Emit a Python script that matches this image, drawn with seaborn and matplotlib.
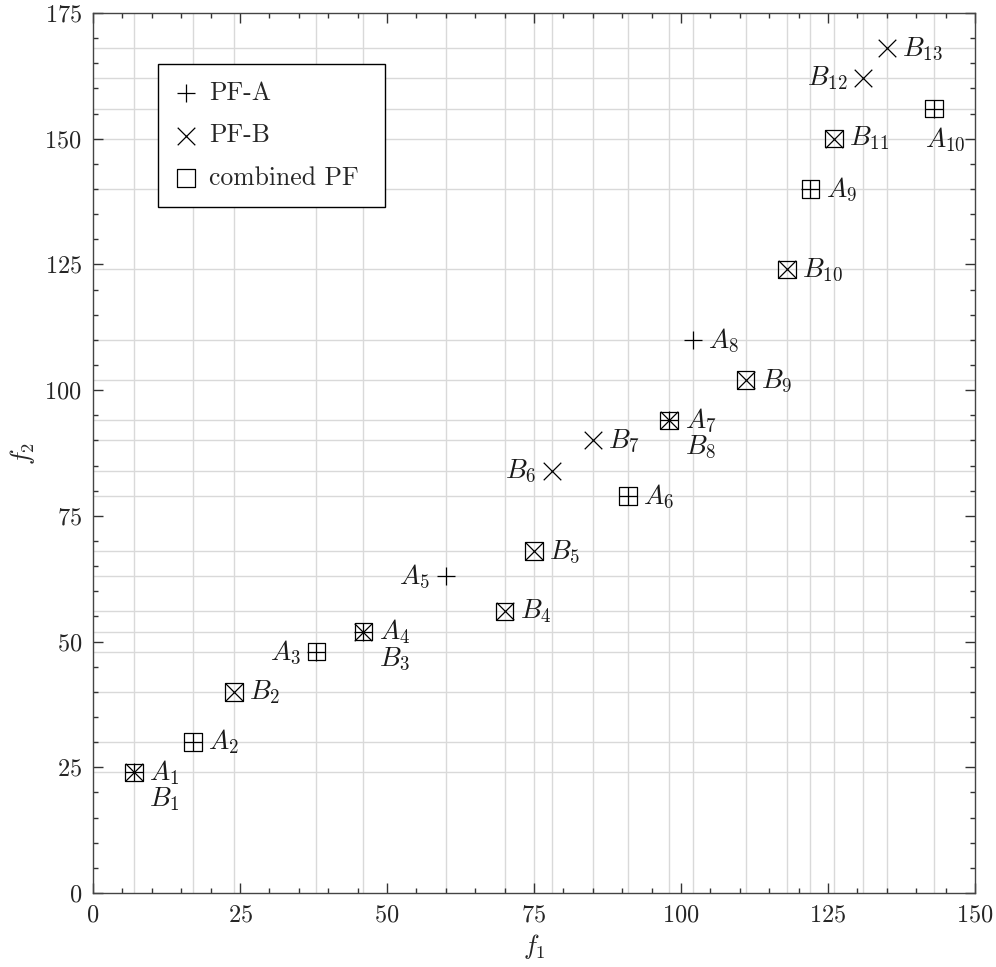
import matplotlib
matplotlib.use("Agg")
import matplotlib.pyplot as plt
import seaborn as sns
import pandas as pd
from matplotlib.ticker import MultipleLocator

sns.set_style("ticks")
plt.rcParams['font.family'] = ['cmr10', 'DejaVu Serif']
plt.rcParams['mathtext.fontset'] = 'cm'
plt.rcParams['axes.unicode_minus'] = False
plt.rcParams['axes.formatter.use_mathtext'] = True

# Pareto front A
a_x = [7, 17, 38, 46, 60, 91, 98, 102, 122, 143]
a_y = [24, 30, 48, 52, 63, 79, 94, 110, 140, 156]
# Pareto front B
b_x = [7, 24, 46, 70, 75, 78, 85, 98, 111, 118, 126, 131, 135]
b_y = [24, 40, 52, 56, 68, 84, 90, 94, 102, 124, 150, 162, 168]
# points that end up in the combined front
combined = ["A1", "A2", "B2", "A3", "A4", "B4", "B5", "A6", "A7",
            "B9", "B10", "A9", "B11", "A10"]

# where each point's name is written
a_side = ["right", "right", "left", "right", "left", "right", "right",
          "right", "right", "below"]
b_side = ["below right", "right", "below right", "right", "right", "left",
          "right", "below right", "right", "right", "right", "left", "right"]

pts = pd.DataFrame({
    "name": [f"A{i + 1}" for i in range(len(a_x))] + [f"B{i + 1}" for i in range(len(b_x))],
    "f1": a_x + b_x,
    "f2": a_y + b_y,
    "front": ["A"] * len(a_x) + ["B"] * len(b_x),
    "side": a_side + b_side,
})
comb = pts.set_index("name").loc[combined].reset_index()

fig = plt.figure(figsize=(9.96, 9.67), dpi=100)
ax = fig.add_axes([0.0934, 0.0765, 0.8855, 0.9101])

# grid only through the data coordinates
for v in sorted(set(pts["f1"])):
    ax.axvline(v, color="#d9d9d9", lw=1.0, zorder=0.5)
for v in sorted(set(pts["f2"])):
    ax.axhline(v, color="#d9d9d9", lw=1.0, zorder=0.5)

ms = 160
lw = 0.9
sns.scatterplot(data=pts[pts["front"] == "A"], x="f1", y="f2", marker="+", s=ms,
                color="black", linewidth=lw, label="PF-A", ax=ax, zorder=3)
sns.scatterplot(data=pts[pts["front"] == "B"], x="f1", y="f2", marker="x", s=ms,
                color="black", linewidth=lw, label="PF-B", ax=ax, zorder=3)
sns.scatterplot(data=comb, x="f1", y="f2", marker="s", s=ms, facecolor="none",
                edgecolor="black", linewidth=lw, label="combined PF", ax=ax, zorder=4)

offsets = {
    "right": ((11, 0), "left", "center"),
    "left": ((-11.5, 0), "right", "center"),
    "below right": ((11, -9.5), "left", "top"),
    "below": ((-6, -12), "left", "top"),
}
for _, r in pts.iterrows():
    (dx, dy), ha, va = offsets[r["side"]]
    lab = r["name"][0] + "_{" + r["name"][1:] + "}"
    ax.annotate(f"${lab}$", xy=(r["f1"], r["f2"]), xytext=(dx, dy),
                textcoords="offset points", ha=ha, va=va, fontsize=19.5,
                color="#1a1a1a", zorder=5)

ax.set_xlim(0, 150)
ax.set_ylim(0, 175)
ax.xaxis.set_major_locator(MultipleLocator(25))
ax.xaxis.set_minor_locator(MultipleLocator(5))
ax.yaxis.set_major_locator(MultipleLocator(25))
ax.yaxis.set_minor_locator(MultipleLocator(5))
ax.tick_params(which="both", direction="in", top=True, right=True,
               color="#333333", width=1.0)
ax.tick_params(which="major", length=7, pad=8, labelsize=17.5)
ax.tick_params(which="minor", length=3.6)
for sp in ax.spines.values():
    sp.set_color("#444444")
    sp.set_linewidth(1.0)

ax.set_xlabel("$f_1$", fontsize=19, labelpad=4)
ax.set_ylabel("$f_2$", fontsize=19, labelpad=5)

leg = ax.legend(loc="upper left", bbox_to_anchor=(0.074, 0.0, 0.2575, 0.942),
                mode="expand", borderaxespad=0,
                fontsize=18.5, frameon=True, fancybox=False, framealpha=1,
                edgecolor="black", scatterpoints=1, handlelength=0.8,
                handletextpad=0.5, labelspacing=0.72, borderpad=0.68)
leg.get_frame().set_linewidth(1.0)

fig.savefig("out.png", dpi=100)
